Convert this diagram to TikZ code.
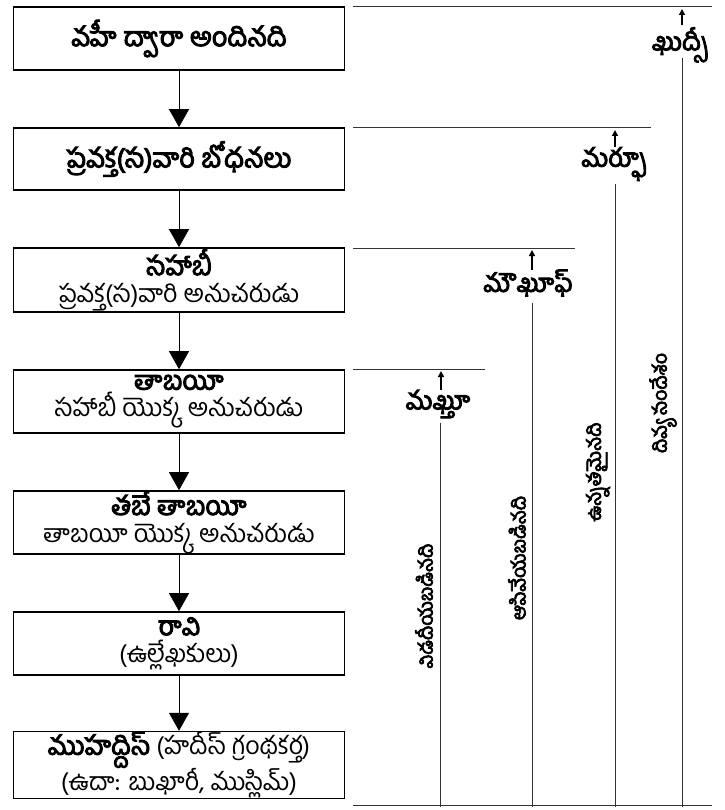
\documentclass[tikz,border=0pt]{standalone}
\usepackage{fontspec}
\newfontfamily\te[Script=Telugu, AutoFakeBold=3.5]{Hind Guntur}
\usetikzlibrary{arrows.meta}
\newcommand{\hd}[1]{{\bfseries\fontsize{26.5}{27}\selectfont #1}}
\begin{document}
\begin{tikzpicture}[x=1pt,y=-1pt,
  box/.style={draw, line width=1.6pt, minimum width=331pt, inner sep=0pt, align=center,
    font=\te\fontsize{25}{27}\selectfont},
  flow/.style={-{Triangle[width=20pt,length=18pt]}, line width=0.8pt},
  level/.style={draw=black!80, line width=1pt},
  up/.style={-{Triangle[width=6pt,length=6pt]}, line width=1.5pt},
  lab/.style={font=\te\bfseries\fontsize{25.5}{26}\selectfont, inner sep=1pt},
  vlab/.style={font=\te\bfseries\fontsize{19.5}{20}\selectfont, rotate=90, inner sep=0pt}]
\useasboundingbox (0,0) rectangle (724,810);
% boxes
\node[box, minimum height=63pt] (b1) at (179,38.5) {\bfseries\fontsize{27}{28}\selectfont వహీ ద్వారా అందినది};
\node[box, minimum height=62pt] (b2) at (179,159) {\bfseries\fontsize{27}{28}\selectfont ప్రవక్త(స)వారి బోధనలు};
\node[box, minimum height=64pt] (b3) at (179,280) {\hd{సహాబీ}\\ ప్రవక్త(స)వారి అనుచరుడు};
\node[box, minimum height=63pt] (b4) at (179,401.5) {\hd{తాబయీ}\\ సహాబీ యొక్క అనుచరుడు};
\node[box, minimum height=63pt] (b5) at (179,522.5) {\hd{తబే తాబయీ}\\ తాబయీ యొక్క అనుచరుడు};
\node[box, minimum height=63pt] (b6) at (179,643.5) {\hd{రావి}\\ (ఉల్లేఖకులు)};
\node[box, minimum height=64pt] (b7) at (179,765) {\hd{ముహద్దిస్} (హదీస్ గ్రంథకర్త)\\ (ఉదా: బుఖారీ, ముస్లిమ్)};
% flow arrows
\draw[flow] (b1) -- (b2);
\draw[flow] (b2) -- (b3);
\draw[flow] (b3) -- (b4);
\draw[flow] (b4) -- (b5);
\draw[flow] (b5) -- (b6);
\draw[flow] (b6) -- (b7);
% level lines
\coordinate (l1a) at (353,7);   \coordinate (l1b) at (712,7);
\coordinate (l2a) at (353,128); \coordinate (l2b) at (651,128);
\coordinate (l3a) at (353,248); \coordinate (l3b) at (575,248);
\coordinate (l4a) at (353,369); \coordinate (l4b) at (485,369);
\coordinate (l5a) at (353,805); \coordinate (l5b) at (712,805);
\draw[level] (l1a) -- (l1b);
\draw[level] (l2a) -- (l2b);
\draw[level] (l3a) -- (l3b);
\draw[level] (l4a) -- (l4b);
\draw[level] (l5a) -- (l5b);
% labels with up arrows and vertical lines
\node[lab] (k1) at (680,45) {ఖుద్సీ};
\coordinate (k1t) at (682,9);  \coordinate (k1s) at (682,25);
\coordinate (k1v) at (682,58); \coordinate (k1e) at (682,807);
\draw[up] (k1s) -- (k1t);
\draw[level] (k1v) -- (k1e);
\node[lab] (k2) at (614,164) {మర్ఫూ};
\coordinate (k2t) at (615,130); \coordinate (k2s) at (615,147);
\coordinate (k2v) at (615,184); \coordinate (k2e) at (615,807);
\draw[up] (k2s) -- (k2t);
\draw[level] (k2v) -- (k2e);
\node[lab] (k3) at (528,283) {మౌఖూఫ్};
\coordinate (k3t) at (532,250); \coordinate (k3s) at (532,270);
\coordinate (k3v) at (532,303); \coordinate (k3e) at (532,807);
\draw[up] (k3s) -- (k3t);
\draw[level] (k3v) -- (k3e);
\node[lab] (k4) at (438,404) {మఖ్తూ};
\coordinate (k4t) at (441,371); \coordinate (k4s) at (441,390);
\coordinate (k4v) at (440,423); \coordinate (k4e) at (440,807);
\draw[up] (k4s) -- (k4t);
\draw[level] (k4v) -- (k4e);
% rotated labels
\node[vlab] (r1) at (424,606) {విడదీయబడినది};
\node[vlab] (r2) at (517,558) {ఆపివేయబడినది};
\node[vlab] (r3) at (598,472) {ఉన్నతమైనది};
\node[vlab] (r4) at (663,403) {దివ్య సందేశం};
\end{tikzpicture}
\end{document}
